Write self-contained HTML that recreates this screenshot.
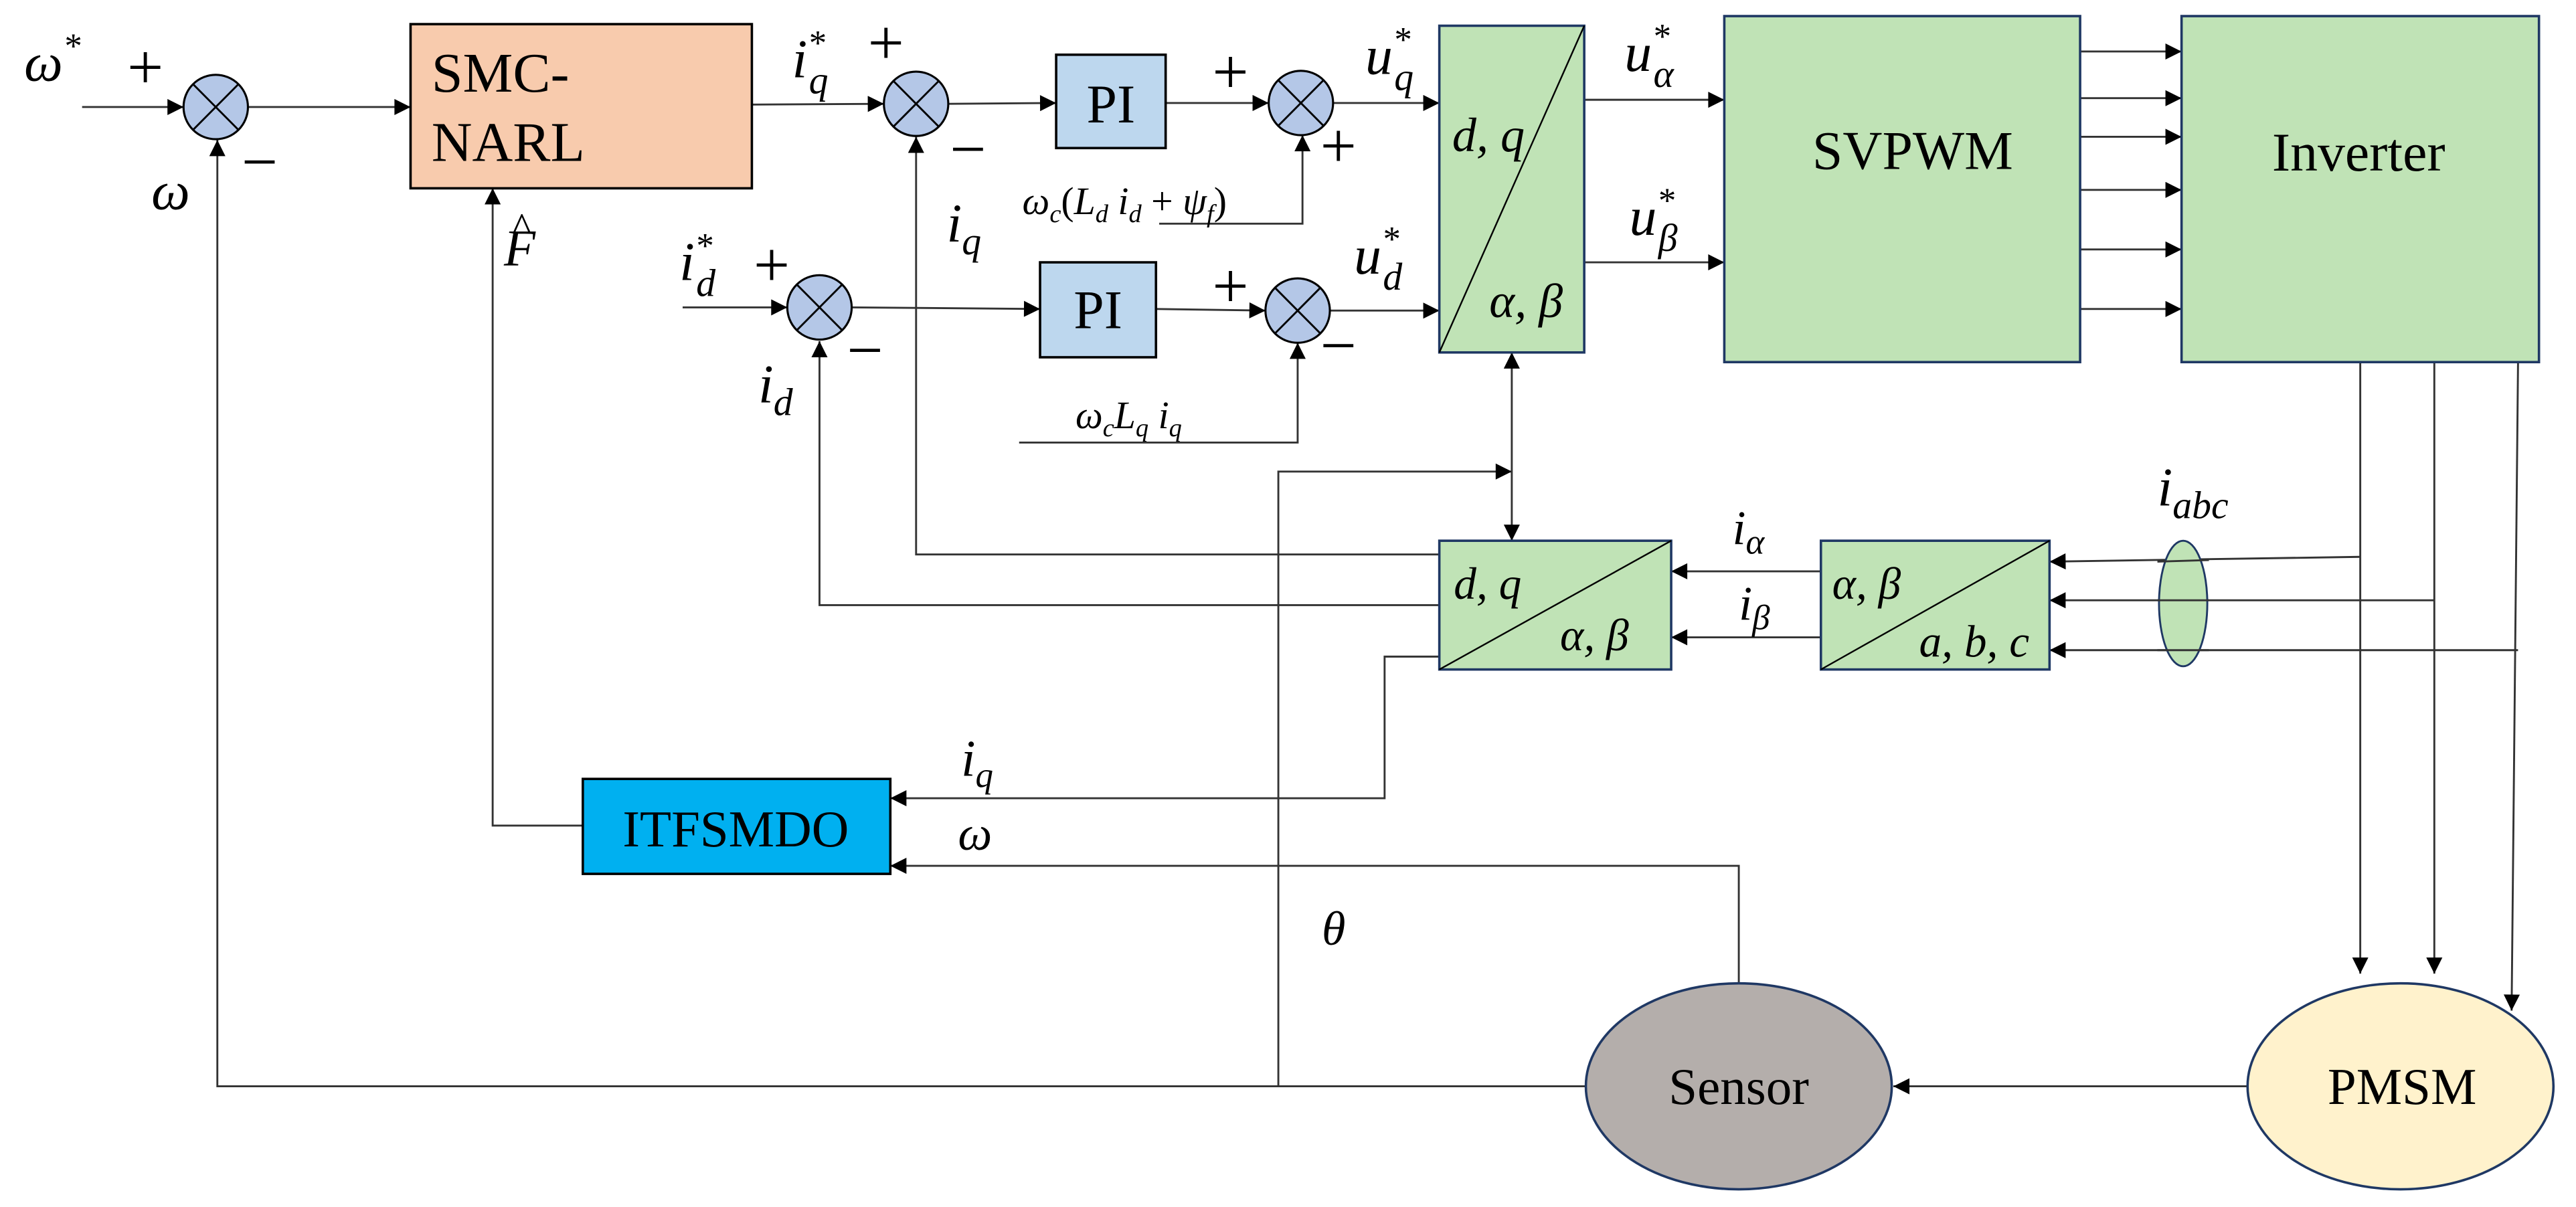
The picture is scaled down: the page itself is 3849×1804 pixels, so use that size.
<!DOCTYPE html>
<html><head><meta charset="utf-8"><style>
html,body{margin:0;padding:0;background:#fff;}
svg{display:block;}
text{font-family:"Liberation Serif",serif;fill:#000;}
.m{font-style:italic;}
</style></head><body>
<svg width="3849" height="1804" viewBox="0 0 1600 750" preserveAspectRatio="none" xmlns="http://www.w3.org/2000/svg">
<defs>
<marker id="a" viewBox="0 0 10 10" refX="10" refY="5" markerWidth="11" markerHeight="10" markerUnits="userSpaceOnUse" orient="auto-start-reverse">
<path d="M0,0 L10,5 L0,10 z" fill="#000"/></marker>
</defs>
<g stroke="#333" stroke-width="1.2" fill="none">
<line x1="51" y1="66.5" x2="114" y2="66.5" marker-end="url(#a)"/>
<line x1="154" y1="66.5" x2="255" y2="66.5" marker-end="url(#a)"/>
<line x1="467" y1="65" x2="549" y2="64.5" marker-end="url(#a)"/>
<line x1="589" y1="64.5" x2="656" y2="64" marker-end="url(#a)"/>
<line x1="724" y1="64" x2="788" y2="64" marker-end="url(#a)"/>
<line x1="828" y1="64" x2="894" y2="64" marker-end="url(#a)"/>
<polyline points="720,139 809,139 809,84" marker-end="url(#a)"/>
<line x1="424" y1="191" x2="489" y2="191" marker-end="url(#a)"/>
<line x1="529" y1="191" x2="646" y2="192" marker-end="url(#a)"/>
<line x1="718" y1="192" x2="786" y2="193" marker-end="url(#a)"/>
<line x1="826" y1="193" x2="894" y2="193" marker-end="url(#a)"/>
<polyline points="633,275 806,275 806,213" marker-end="url(#a)"/>
<line x1="984" y1="62" x2="1071" y2="62" marker-end="url(#a)"/>
<line x1="984" y1="163" x2="1071" y2="163" marker-end="url(#a)"/>
<line x1="1292" y1="32" x2="1355" y2="32" marker-end="url(#a)"/>
<line x1="1292" y1="61" x2="1355" y2="61" marker-end="url(#a)"/>
<line x1="1292" y1="85" x2="1355" y2="85" marker-end="url(#a)"/>
<line x1="1292" y1="118" x2="1355" y2="118" marker-end="url(#a)"/>
<line x1="1292" y1="155" x2="1355" y2="155" marker-end="url(#a)"/>
<line x1="1292" y1="192" x2="1355" y2="192" marker-end="url(#a)"/>
<line x1="1466" y1="225" x2="1466" y2="605" marker-end="url(#a)"/>
<line x1="1512" y1="225" x2="1512" y2="605" marker-end="url(#a)"/>
<line x1="1564" y1="225" x2="1560" y2="628" marker-end="url(#a)"/>
<line x1="1466" y1="346" x2="1273" y2="349" marker-end="url(#a)"/>
<line x1="1512" y1="373" x2="1273" y2="373" marker-end="url(#a)"/>
<line x1="1564" y1="404" x2="1273" y2="404" marker-end="url(#a)"/>
<line x1="1131" y1="355" x2="1038" y2="355" marker-end="url(#a)"/>
<line x1="1131" y1="396" x2="1038" y2="396" marker-end="url(#a)"/>
<polyline points="894,344.5 569,344.5 569,85" marker-end="url(#a)"/>
<polyline points="894,376 509,376 509,212" marker-end="url(#a)"/>
<polyline points="894,408 860,408 860,496 553,496" marker-end="url(#a)"/>
<polyline points="362,513 306,513 306,117" marker-end="url(#a)"/>
<polyline points="1080,611 1080,538 553,538" marker-end="url(#a)"/>
<polyline points="985,675 135,675 135,87" marker-end="url(#a)"/>
<polyline points="794,675 794,293 939,293" marker-end="url(#a)"/>
<line x1="939" y1="219" x2="939" y2="336" marker-start="url(#a)" marker-end="url(#a)"/>
<line x1="1396" y1="675" x2="1176" y2="675" marker-end="url(#a)"/>
</g>
<rect x="255" y="15" width="212" height="102" fill="#f8cbad" stroke="#000" stroke-width="1.5"/>
<rect x="656" y="34" width="68" height="58" fill="#bdd7ee" stroke="#000" stroke-width="1.5"/>
<rect x="646" y="163" width="72" height="59" fill="#bdd7ee" stroke="#000" stroke-width="1.5"/>
<rect x="894" y="16" width="90" height="203" fill="#c0e3b6" stroke="#1f3864" stroke-width="1.5"/>
<line x1="894" y1="219" x2="984" y2="16" stroke="#000" stroke-width="1"/>
<rect x="1071" y="10" width="221" height="215" fill="#c0e3b6" stroke="#1f3864" stroke-width="1.5"/>
<rect x="1355" y="10" width="222" height="215" fill="#c0e3b6" stroke="#1f3864" stroke-width="1.5"/>
<rect x="894" y="336" width="144" height="80" fill="#c0e3b6" stroke="#1f3864" stroke-width="1.5"/>
<line x1="894" y1="416" x2="1038" y2="336" stroke="#000" stroke-width="1"/>
<rect x="1131" y="336" width="142" height="80" fill="#c0e3b6" stroke="#1f3864" stroke-width="1.5"/>
<line x1="1131" y1="416" x2="1273" y2="336" stroke="#000" stroke-width="1"/>
<rect x="362" y="484" width="191" height="59" fill="#00b0f0" stroke="#000" stroke-width="1.5"/>
<ellipse cx="1356" cy="375" rx="15" ry="39" fill="#c0e3b6" stroke="#1f3864" stroke-width="1.2"/>
<g stroke="#333" stroke-width="1.2"><line x1="1340" y1="349" x2="1372" y2="348"/><line x1="1340" y1="373" x2="1372" y2="373"/><line x1="1340" y1="404" x2="1372" y2="404"/></g>
<ellipse cx="1080" cy="675" rx="95" ry="64" fill="#b4aeab" stroke="#1f3864" stroke-width="1.5"/>
<ellipse cx="1491" cy="675" rx="95" ry="64" fill="#fff2cc" stroke="#1f3864" stroke-width="1.5"/>
<g fill="#b4c7e7" stroke="#000" stroke-width="1.3">
<circle cx="134" cy="66.5" r="20"/><circle cx="569" cy="64.5" r="20"/><circle cx="808" cy="64" r="20"/>
<circle cx="509" cy="191" r="20"/><circle cx="806" cy="193" r="20"/>
</g>
<g stroke="#000" stroke-width="1.2">
<path d="M120,52.4 L148,80.6 M148,52.4 L120,80.6"/>
<path d="M555,50.4 L583,78.6 M583,50.4 L555,78.6"/>
<path d="M794,49.9 L822,78.1 M822,49.9 L794,78.1"/>
<path d="M495,176.9 L523,205.1 M523,176.9 L495,205.1"/>
<path d="M792,178.9 L820,207.1 M820,178.9 L792,207.1"/>
</g>
<text x="268" y="57" font-size="35">SMC-</text>
<text x="268" y="100" font-size="35">NARL</text>
<text x="690" y="76" font-size="34" text-anchor="middle">PI</text>
<text x="682" y="204" font-size="34" text-anchor="middle">PI</text>
<text x="1188" y="105" font-size="34" text-anchor="middle">SVPWM</text>
<text x="1465" y="106" font-size="34" text-anchor="middle">Inverter</text>
<text x="457" y="526" font-size="32" text-anchor="middle">ITFSMDO</text>
<text x="1080" y="686" font-size="32" text-anchor="middle">Sensor</text>
<text x="1492" y="686" font-size="32" text-anchor="middle">PMSM</text>
<text x="902" y="94" font-size="30" class="m">d, q</text>
<text x="925" y="197" font-size="30" class="m">α, β</text>
<text x="903" y="372" font-size="28" class="m">d, q</text>
<text x="969" y="404" font-size="28" class="m">α, β</text>
<text x="1138" y="372" font-size="28" class="m">α, β</text>
<text x="1192" y="408" font-size="28" class="m">a, b, c</text>
<g font-size="40">
<text x="79" y="55">+</text><text x="150" y="114">−</text>
<text x="539" y="40">+</text><text x="590" y="106">−</text>
<text x="753" y="58">+</text><text x="820" y="104">+</text>
<text x="468" y="178">+</text><text x="526" y="231">−</text>
<text x="753" y="191">+</text><text x="820" y="228">−</text>
</g>
<g class="m">
<text x="15" y="50" font-size="34">ω<tspan font-size="22" dy="-14">*</tspan></text>
<text x="94" y="130" font-size="34">ω</text>
<text x="313" y="165" font-size="32">F</text><text x="318" y="150" font-size="26" font-style="normal">^</text>
<text x="492" y="48" font-size="34">i<tspan font-size="22" dy="-14">*</tspan><tspan font-size="24" dx="-10" dy="24">q</tspan></text>
<text x="588" y="150" font-size="34">i<tspan font-size="24" dy="8">q</tspan></text>
<text x="422" y="174" font-size="34">i<tspan font-size="22" dy="-14">*</tspan><tspan font-size="24" dx="-10" dy="24">d</tspan></text>
<text x="471" y="250" font-size="34">i<tspan font-size="24" dy="8">d</tspan></text>
<text x="635" y="133" font-size="24">ω<tspan font-size="16" dy="5">c</tspan><tspan dy="-5" font-style="normal">(</tspan>L<tspan font-size="16" dy="5">d</tspan><tspan dy="-5"> i</tspan><tspan font-size="16" dy="5">d</tspan><tspan dy="-5" font-style="normal"> + </tspan>ψ<tspan font-size="16" dy="5">f</tspan><tspan dy="-5" font-style="normal">)</tspan></text>
<text x="668" y="266" font-size="24">ω<tspan font-size="16" dy="5">c</tspan><tspan dy="-5">L</tspan><tspan font-size="16" dy="5">q</tspan><tspan dy="-5"> i</tspan><tspan font-size="16" dy="5">q</tspan></text>
<text x="848" y="46" font-size="34">u<tspan font-size="22" dy="-14">*</tspan><tspan font-size="24" dx="-10" dy="24">q</tspan></text>
<text x="841" y="170" font-size="34">u<tspan font-size="22" dy="-14">*</tspan><tspan font-size="24" dx="-10" dy="24">d</tspan></text>
<text x="1009" y="44" font-size="34">u<tspan font-size="22" dy="-14">*</tspan><tspan font-size="24" dx="-10" dy="24">α</tspan></text>
<text x="1012" y="146" font-size="34">u<tspan font-size="22" dy="-14">*</tspan><tspan font-size="24" dx="-10" dy="24">β</tspan></text>
<text x="1340" y="314" font-size="34">i<tspan font-size="24" dy="8">abc</tspan></text>
<text x="1076" y="338" font-size="30">i<tspan font-size="22" dy="6">α</tspan></text>
<text x="1080" y="385" font-size="30">i<tspan font-size="22" dy="6">β</tspan></text>
<text x="597" y="482" font-size="32">i<tspan font-size="22" dy="7">q</tspan></text>
<text x="595" y="528" font-size="30">ω</text>
<text x="821" y="587" font-size="30">θ</text>
</g>
</svg>
</body></html>
